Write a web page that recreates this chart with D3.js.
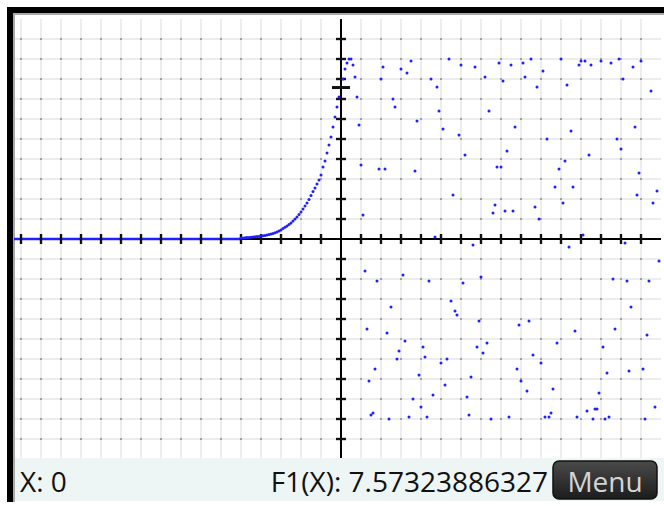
<!DOCTYPE html>
<html>
<head>
<meta charset="utf-8">
<script src="https://cdn.jsdelivr.net/npm/d3@7/dist/d3.min.js"></script>
<style>
  html, body { margin: 0; padding: 0; background: #fff; }
  svg { display: block; }
</style>
</head>
<body>
<svg id="chart" width="664" height="506"></svg>
<script>
// ---- data (units) ----
const flatX = [-16.35, -5.0];
const flatY = [0, 0];

const curveX = [-5.0,-4.9,-4.8,-4.7,-4.6,-4.5,-4.4,-4.3,-4.2,-4.1,-4.0,-3.9,-3.8,-3.7,-3.6,-3.5,-3.4,-3.3,-3.2,-3.1,
  -3.0,-2.9,-2.8,-2.7,-2.6,-2.5,-2.4,-2.3,-2.2,-2.1,-2.0,-1.9,-1.8,-1.7,-1.6,-1.5,-1.4,-1.3,-1.2,-1.1,
  -1.0,-0.9,-0.8,-0.7,-0.6,-0.5,-0.4,-0.3,-0.2,-0.1,0.0];
const curveY = [0.05,0.05,0.06,0.07,0.08,0.09,0.10,0.11,0.12,0.13,0.15,0.16,0.18,0.20,0.22,0.25,0.28,0.31,0.35,0.40,
  0.45,0.52,0.59,0.65,0.72,0.80,0.90,1.00,1.10,1.22,1.35,1.50,1.65,1.80,1.98,2.17,2.37,2.55,2.75,2.95,
  3.20,3.60,3.90,4.30,4.70,5.10,5.60,6.10,6.60,7.10,7.57];

const scatterX = [0.1,0.2,0.3,0.4,0.5,0.6,0.7,0.8,0.9,1.0,1.1,1.2,1.3,1.4,1.5,1.6,1.7,1.8,1.9,2.0,
  2.1,2.2,2.3,2.4,2.5,2.6,2.7,2.8,2.9,3.0,3.1,3.2,3.3,3.4,3.5,3.6,3.7,3.8,3.9,4.0,
  4.1,4.2,4.3,4.4,4.5,4.6,4.7,4.8,4.9,5.0,5.1,5.2,5.3,5.4,5.5,5.6,5.7,5.8,5.9,6.0,
  6.1,6.2,6.3,6.4,6.5,6.6,6.7,6.8,6.9,7.0,7.1,7.2,7.3,7.4,7.5,7.6,7.7,7.8,7.9,8.0,
  8.1,8.2,8.3,8.4,8.5,8.6,8.7,8.8,8.9,9.0,9.1,9.2,9.3,9.4,9.5,9.6,9.7,9.8,9.9,10.0,
  10.1,10.2,10.3,10.4,10.5,10.6,10.7,10.8,10.9,11.0,11.1,11.2,11.3,11.4,11.5,11.6,11.7,11.8,11.9,12.0,
  12.1,12.2,12.3,12.4,12.5,12.6,12.7,12.8,12.9,13.0,13.1,13.2,13.3,13.4,13.5,13.6,13.7,13.8,13.9,14.0,
  14.1,14.2,14.3,14.4,14.5,14.6,14.7,14.8,14.9,15.0,15.1,15.2,15.3,15.4,15.5,15.6,15.7,15.8,15.9];
const scatterY = [8.0,8.5,8.8,9.0,9.0,8.7,8.1,7.1,5.7,3.7,1.2,-1.6,-4.5,-7.1,-8.8,-8.7,-6.5,-2.1,3.5,8.0,
  8.6,3.5,-4.7,-9.0,-3.4,7.0,6.6,-6.0,-5.6,8.5,-1.8,-5.1,8.3,-8.9,8.9,-8.0,3.4,5.9,-6.8,-8.4,
  -5.4,-5.9,-8.9,-2.1,8.0,-7.8,0.1,7.6,6.4,-6.2,5.5,-7.3,-6.0,9.0,-3.1,2.2,-3.6,-3.8,5.2,8.7,
  -2.2,4.2,-7.9,-8.8,-6.9,-0.3,8.6,-5.4,-4.1,-1.9,-5.7,8.1,-5.2,6.4,-9.0,1.3,1.7,3.6,8.8,3.6,
  7.9,1.4,4.4,-8.9,8.7,1.4,5.6,-6.5,-4.3,-7.1,8.8,8.1,-7.6,-4.1,9.0,-5.8,1.6,7.6,1.0,-6.2,
  8.4,-8.9,5.0,-8.9,-8.7,-7.5,2.6,-5.2,3.5,9.0,1.8,3.9,7.7,-0.4,5.4,2.6,-4.6,-8.9,8.7,8.9,
  0.2,8.9,-8.6,4.2,8.7,-9.0,-8.5,-8.5,-7.7,8.9,-5.4,-9.0,-6.7,-8.9,8.8,-2.0,-4.5,5.0,9.0,4.5,
  8.0,-0.2,-2.1,-6.6,-3.4,8.6,5.6,2.2,3.3,8.9,-6.5,-9.0,-4.8,-2.1,7.4,1.8,-8.4,2.4,-1.1];

const gridX = [-16,-15,-14,-13,-12,-11,-10,-9,-8,-7,-6,-5,-4,-3,-2,-1,0,1,2,3,4,5,6,7,8,9,10,11,12,13,14,15];
const gridY = [-10,-9,-8,-7,-6,-5,-4,-3,-2,-1,0,1,2,3,4,5,6,7,8,9,10];
const cursorX = 0;
const cursorY = 7.57323886327;
const statusLeft = "X: 0";
const statusRight = "F1(X): 7.57323886327";
const menuLabel = "Menu";

// ---- layout ----
const svg = d3.select("#chart");
const W = 664, H = 506;
const plotL = 15, plotT = 15, plotR = 661, plotB = 458;

const x = d3.scaleLinear().domain([-16, 16]).range([21, 661]);
const y = d3.scaleLinear().domain([-11, 11]).range([459, 19]);

svg.append("rect").attr("width", W).attr("height", H).attr("fill", "#fff");

// frame
svg.append("rect").attr("x", 7).attr("y", 7).attr("width", W - 7).attr("height", 6).attr("fill", "#000");
svg.append("rect").attr("x", 7).attr("y", 7).attr("width", 6).attr("height", 495).attr("fill", "#000");
svg.append("rect").attr("x", 13).attr("y", 13).attr("width", W - 13).attr("height", 2).attr("fill", "#a8a8a8");
svg.append("rect").attr("x", 13).attr("y", 13).attr("width", 2).attr("height", 489).attr("fill", "#a8a8a8");

// grid
const grid = svg.append("g");
grid.selectAll("line.gx").data(gridX).join("line")
  .attr("x1", d => x(d)).attr("x2", d => x(d))
  .attr("y1", 19).attr("y2", plotB)
  .attr("stroke", "#ededed").attr("stroke-width", 2);
grid.selectAll("line.gy").data(gridY).join("line")
  .attr("class", "gy")
  .attr("x1", plotL).attr("x2", plotR)
  .attr("y1", d => y(d)).attr("y2", d => y(d))
  .attr("stroke", "#ededed").attr("stroke-width", 2);
const inter = [];
gridX.forEach(gx => gridY.forEach(gy => inter.push([gx, gy])));
grid.selectAll("rect.dot").data(inter).join("rect")
  .attr("x", d => x(d[0]) - 1).attr("y", d => y(d[1]) - 1)
  .attr("width", 2).attr("height", 2).attr("fill", "#a0a0a0");

// axes
svg.append("line").attr("x1", plotL).attr("x2", plotR).attr("y1", y(0)).attr("y2", y(0))
  .attr("stroke", "#000").attr("stroke-width", 2);
svg.append("line").attr("x1", x(0)).attr("x2", x(0)).attr("y1", 19).attr("y2", plotB)
  .attr("stroke", "#000").attr("stroke-width", 2);

// function: flat part + sampled dots
const blue = "#1f1fff";
svg.append("line")
  .attr("x1", x(flatX[0])).attr("x2", x(flatX[1]))
  .attr("y1", y(flatY[0])).attr("y2", y(flatY[1]))
  .attr("stroke", blue).attr("stroke-width", 2.6);

const pts = curveX.map((v, i) => [v, curveY[i]])
  .concat(scatterX.map((v, i) => [v, scatterY[i]]));

// ticks
const ticks = svg.append("g");
ticks.selectAll("line.tx").data(gridX.filter(d => d !== 0)).join("line")
  .attr("x1", d => x(d)).attr("x2", d => x(d))
  .attr("y1", y(0) - 5).attr("y2", y(0) + 5)
  .attr("stroke", "#111").attr("stroke-width", 2.4);
ticks.selectAll("line.ty").data(gridY.filter(d => d !== 0)).join("line")
  .attr("class", "ty")
  .attr("x1", x(0) - 5).attr("x2", x(0) + 5)
  .attr("y1", d => y(d)).attr("y2", d => y(d))
  .attr("stroke", "#111").attr("stroke-width", 2.4);

svg.append("g").selectAll("circle").data(pts).join("circle")
  .attr("cx", d => x(d[0])).attr("cy", d => y(d[1]))
  .attr("r", 1.5).attr("fill", blue);

// cursor
svg.append("line").attr("x1", x(cursorX) - 9).attr("x2", x(cursorX) + 9)
  .attr("y1", y(cursorY)).attr("y2", y(cursorY))
  .attr("stroke", "#111").attr("stroke-width", 3);

// status bar
svg.append("rect").attr("x", 15).attr("y", plotB).attr("width", W - 15).attr("height", 43)
  .attr("fill", "#eef5f5");
svg.append("text").attr("x", 20).attr("y", 492).text(statusLeft)
  .attr("font-family", "'Open Sans', 'Noto Sans', sans-serif").attr("font-size", 28).attr("fill", "#111");
svg.append("text").attr("x", 548).attr("y", 492).attr("text-anchor", "end").text(statusRight)
  .attr("font-family", "'Open Sans', 'Noto Sans', sans-serif").attr("font-size", 28).attr("fill", "#111");

const defs = svg.append("defs");
const grad = defs.append("linearGradient").attr("id", "btn").attr("x1", 0).attr("x2", 0).attr("y1", 0).attr("y2", 1);
grad.append("stop").attr("offset", "0%").attr("stop-color", "#4a4a4a");
grad.append("stop").attr("offset", "100%").attr("stop-color", "#1c1c1c");
svg.append("rect").attr("x", 553).attr("y", 461).attr("width", 104).attr("height", 38)
  .attr("rx", 6).attr("fill", "url(#btn)").attr("stroke", "#111").attr("stroke-width", 1.5);
svg.append("text").attr("x", 605).attr("y", 492).attr("text-anchor", "middle").text(menuLabel)
  .attr("font-family", "'Open Sans', 'Noto Sans', sans-serif").attr("font-size", 28).attr("fill", "#d4d4d4");
</script>
</body>
</html>
